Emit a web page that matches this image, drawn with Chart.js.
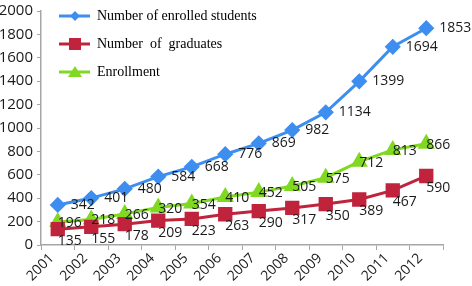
<!DOCTYPE html>
<html>
<head>
<meta charset="utf-8">
<script src="https://cdn.jsdelivr.net/npm/chart.js@4/dist/chart.umd.min.js"></script>
<style>
  html, body { margin: 0; padding: 0; background: #fff; }
  #wrap { width: 472px; height: 286px; }
</style>
</head>
<body>
<div id="wrap"><canvas id="grafico"></canvas></div>
<script>
// Datos
const years = ['2001', '2002', '2003', '2004', '2005', '2006', '2007', '2008', '2009', '2010', '2011', '2012']
const enrolledStudents = [342, 401, 480, 584, 668, 776, 869, 982, 1134, 1399, 1694, 1853]
const graduates = [135, 155, 178, 209, 223, 263, 290, 317, 350, 389, 467, 590]
const enrollment = [196, 218, 266, 320, 354, 410, 452, 505, 575, 712, 813, 866]
const yTicks = [0, 200, 400, 600, 800, 1000, 1200, 1400, 1600, 1800, 2000]

const numFont = '14px "Open Sans"'
const axisGray = '#a6a6a6'

// Donde va cada etiqueta de valor respecto del punto
const labelPos = [
  { dx: 13, dy: 0, align: 'left' },
  { dx: 12, dy: 12, align: 'center' },
  { dx: 12, dy: 1, align: 'center' }
]

const valueLabels = {
  id: 'valueLabels',
  afterDatasetsDraw(chart) {
    const ctx = chart.ctx
    ctx.save()
    ctx.font = numFont
    ctx.fillStyle = '#1a1a1a'
    ctx.textBaseline = 'middle'
    chart.data.datasets.forEach((ds, i) => {
      const pos = labelPos[i]
      ctx.textAlign = pos.align
      chart.getDatasetMeta(i).data.forEach((pt, j) => {
        ctx.fillText(String(ds.data[j]), pt.x + pos.dx, pt.y + pos.dy)
      })
    })
    ctx.restore()
  }
}

// Leyenda dibujada dentro del area del grafico
const innerLegend = {
  id: 'innerLegend',
  afterDraw(chart) {
    const ctx = chart.ctx
    const left = chart.chartArea.left + 18
    ctx.save()
    chart.data.datasets.forEach((ds, i) => {
      const y = 16 + i * 28
      ctx.strokeStyle = ds.borderColor
      ctx.lineWidth = 3
      ctx.beginPath()
      ctx.moveTo(left, y)
      ctx.lineTo(left + 31, y)
      ctx.stroke()
      const cx = left + 16
      ctx.fillStyle = ds.borderColor
      ctx.beginPath()
      if (ds.pointStyle === 'rectRot') {
        ctx.moveTo(cx, y - 5); ctx.lineTo(cx + 5, y); ctx.lineTo(cx, y + 5); ctx.lineTo(cx - 5, y)
      } else if (ds.pointStyle === 'rect') {
        ctx.rect(cx - 6, y - 6, 12, 12)
      } else {
        ctx.moveTo(cx, y - 6); ctx.lineTo(cx + 7, y + 5); ctx.lineTo(cx - 7, y + 5)
      }
      ctx.closePath()
      ctx.fill()
      ctx.fillStyle = '#000'
      ctx.font = '14px "Liberation Serif"'
      ctx.textAlign = 'left'
      ctx.textBaseline = 'middle'
      ctx.fillText(ds.label, left + 38, y)
    })
    ctx.restore()
  }
}

let chart
window.addEventListener('load', () => {
  chart = new Chart(document.getElementById('grafico'), {
    type: 'line',
    data: {
      labels: years,
      datasets: [{
        label: 'Number of enrolled students',
        data: enrolledStudents,
        borderColor: '#3e8ef0',
        backgroundColor: '#3e8ef0',
        pointStyle: 'rectRot',
        pointRadius: 6,
        borderWidth: 3
      }, {
        label: 'Number  of  graduates',
        data: graduates,
        borderColor: '#c0233c',
        backgroundColor: '#c0233c',
        pointStyle: 'rect',
        pointRadius: 8,
        borderWidth: 3
      }, {
        label: 'Enrollment',
        data: enrollment,
        borderColor: '#80d822',
        backgroundColor: '#80d822',
        pointStyle: 'triangle',
        pointRadius: 7,
        borderWidth: 3
      }]
    },
    options: {
      responsive: true,
      maintainAspectRatio: false,
      animation: false,
      layout: { padding: { left: 0, right: 29, top: -3, bottom: 0 } },
      plugins: { legend: { display: false }, tooltip: { enabled: false } },
      elements: { line: { tension: 0 }, point: { borderWidth: 0 } },
      scales: {
        x: {
          offset: true,
          grid: { offset: true, drawOnChartArea: false, color: axisGray, tickLength: 5 },
          border: { color: axisGray, width: 1.5 },
          ticks: {
            color: '#1a1a1a',
            font: { family: 'Open Sans', size: 14 },
            maxRotation: 45, minRotation: 45,
            labelOffset: -6,
            padding: 0,
            autoSkip: false
          },
          afterFit: (s) => { s.height = 41 }
        },
        y: {
          min: 0, max: 2000,
          afterBuildTicks: (s) => { s.ticks = yTicks.map(v => ({ value: v })) },
          grid: { drawOnChartArea: false, color: axisGray, tickLength: 4 },
          border: { color: axisGray, width: 1.5 },
          ticks: {
            color: '#1a1a1a',
            font: { family: 'Open Sans', size: 15 },
            padding: 4,
            callback: (v) => String(v)
          },
          afterFit: (s) => { s.width = 41; s.paddingTop = 6; s.paddingBottom = 0 }
        }
      }
    },
    plugins: [valueLabels, innerLegend]
  })
})
</script>
</body>
</html>
